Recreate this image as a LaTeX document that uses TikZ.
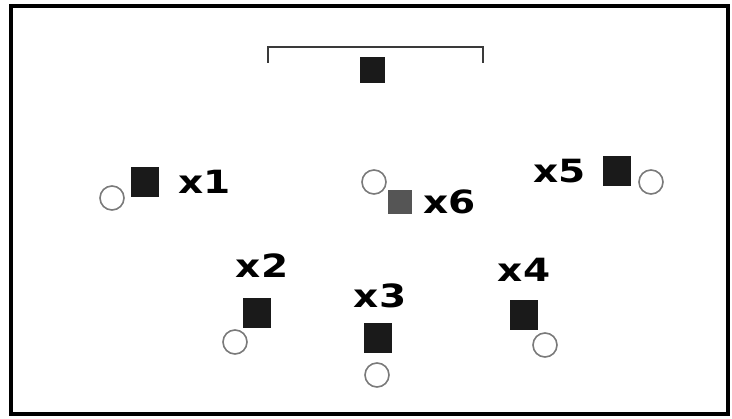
\documentclass[tikz,border=0pt]{standalone}
\usepackage{fontspec}
\setmainfont{DejaVu Sans}
\newfontfamily\tagfont{DejaVu Sans Bold}[FakeStretch=1.22]
\usetikzlibrary{positioning, calc}
\definecolor{playerfill}{HTML}{1A1A1A}
\definecolor{subfill}{HTML}{555555}
\definecolor{ringgray}{HTML}{7A7A7A}
\definecolor{goalgray}{HTML}{3A3A3A}

\begin{document}
\begin{tikzpicture}[
    x=1pt, y=-1pt,
    player/.style={draw=none, fill=playerfill, minimum width=28pt,
        minimum height=30pt, inner sep=0pt},
    subplayer/.style={draw=none, fill=subfill, minimum size=24pt, inner sep=0pt},
    ring/.style={circle, draw=ringgray, line width=1.6pt, fill=white,
        minimum size=24pt, inner sep=0pt},
    tag/.style={inner sep=0pt, font=\tagfont\fontsize{32}{32}\selectfont},
]
\useasboundingbox (0,0) rectangle (732,419);

% === Frame ===
\draw[line width=3.2pt] (11,6) rectangle (728,414);

% === Goal ===
\coordinate (goalL) at (268,47);
\coordinate (goalR) at (483,47);
\draw[goalgray, line width=2pt] ($(goalL)+(0,16)$) -- (goalL) -- (goalR) -- ++(0,16);
\node[player, minimum width=25pt, minimum height=26pt] (keeper) at (372,70) {};

% === Players ===
\node[player] (p1) at (145,182) {};
\node[player] (p2) at (257,313) {};
\node[player] (p3) at (378,338) {};
\node[player] (p4) at (524,315) {};
\node[player] (p5) at (617,171) {};
\node[subplayer] (p6) at (400,202) {};

% === Rings ===
\node[ring] (c1) at (112,198) {};
\node[ring] (c2) at (235,342) {};
\node[ring] (c3) at (377,375) {};
\node[ring] (c4) at (545,345) {};
\node[ring] (c5) at (651,182) {};
\node[ring] (c6) at (374,182) {};

% === Labels ===
\node[tag, right=19pt of p1] (t1) {x1};
\node[tag, above=20pt of p2, xshift=5pt] (t2) {x2};
\node[tag, above=15pt of p3, xshift=2pt] (t3) {x3};
\node[tag, above=18pt of p4] (t4) {x4};
\node[tag, left=17pt of p5] (t5) {x5};
\node[tag, right=11pt of p6] (t6) {x6};

\end{tikzpicture}
\end{document}
